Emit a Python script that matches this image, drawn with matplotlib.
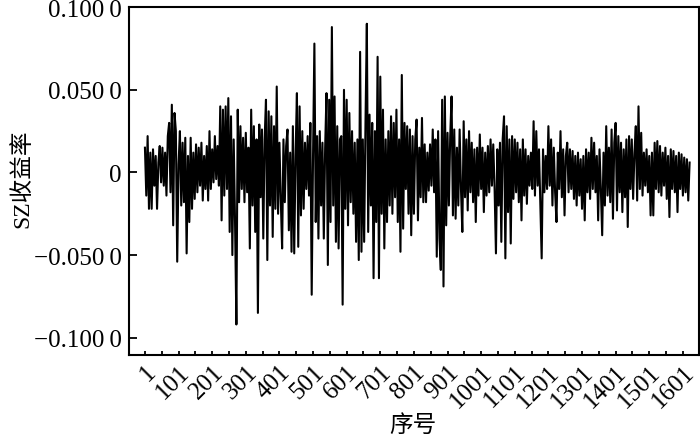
# -*- coding: utf-8 -*-
""" SZ return series, redrawn from the reference figure """

import numpy as np
import matplotlib
matplotlib.use('Agg')
import matplotlib.pyplot as plt
from matplotlib.ticker import FixedLocator, FuncFormatter

# Returns, in units of 0.001, one value every 4 trading days
ret_milli = [
    15, -14, 22, -22, 12, -22, 14, -8, 10, -22, 6, 16, -6, 15, -8, 12,
    -14, 22, 30, -12, 41, -32, 36, 25, -54, 5, 25, -20, 18, -18, 21, -49,
    10, -30, 21, -22, 12, -16, 17, -12, 15, -8, 18, -17, 10, -10, 16, -17,
    25, -10, 14, -6, 22, -4, 16, -8, 40, -29, 38, -14, 40, -10, 45, -36,
    34, -50, 20, -30, -92, 38, -18, 28, -10, 21, -18, 24, -12, 15, -46, 38,
    -20, 28, -36, 20, -85, 29, -15, 26, -40, 20, 44, -53, 37, -20, 34, -39,
    28, -22, 52, -25, 18, -16, -46, 20, -18, 16, 26, -35, 12, -48, 28, -49,
    10, 48, -45, 40, -26, 25, -22, 18, -10, 22, -14, 30, -74, 10, 78, -30,
    22, -40, 25, -20, 18, -40, 15, 48, -56, 44, -30, 88, -20, 46, -42, 28,
    -46, 20, 22, -80, 50, -22, 44, -32, 36, -18, 25, -25, 18, -42, 20, -53,
    73, -48, 20, -42, 30, 90, -36, 35, -20, 30, -64, 25, -30, 70, -64, 58,
    -25, 38, -46, 20, -30, 25, -20, 34, -25, 30, -15, 38, -30, 20, -48, 59,
    -34, 30, -10, 28, -25, 26, -38, 22, -25, 20, 32, -29, 15, -15, 33, -18,
    17, -18, 12, -11, 17, -8, 26, -12, 20, -51, 25, -40, -59, 44, -69, 46,
    -32, 24, -20, 22, 46, -26, 26, -28, 15, -20, 26, -10, -36, 31, -15, 20,
    -23, 25, -12, 18, -18, 14, -30, 15, -14, 23, -10, 15, -24, 12, -14, 16,
    -12, 20, -8, 17, -10, -49, 14, -20, 18, -42, 20, 34, -52, 28, -24, 20,
    -43, 22, -16, 20, -12, 18, -18, 14, -29, 20, -14, 14, -19, 10, -8, 12,
    -10, 31, -14, 25, -8, 14, -20, -52, 14, -12, 10, -10, 28, -8, 20, -20,
    15, -12, -30, 12, -10, 25, -15, 14, -26, 10, 18, -12, 14, -10, 13, -16,
    10, -20, 12, -14, 8, -22, 10, -29, 14, -12, 12, -16, 21, -10, 18, -12,
    10, -29, 14, -10, -38, 12, -20, 28, -14, 15, -18, 26, -28, 18, 30, -23,
    22, -12, 18, -24, 14, -15, 20, -33, 22, -10, 20, -16, 12, 28, -17, 40,
    -10, 24, -14, 12, -8, 14, -12, 10, -26, 12, -26, 18, -10, 19, -12, 16,
    -14, 12, -8, 15, -16, 10, -27, 14, -10, 13, -12, 10, -24, 12, -10, 11,
    -14, 9, -12, 8, -17, 6,
]

# Axis ticks
y_ticks = [-0.1, -0.05, 0.0, 0.05, 0.1]
x_major = list(range(1, 1602, 100))
x_minor = list(range(51, 1552, 100))

ret = np.array(ret_milli) / 1000.0
seq_no = 1 + 4 * np.arange(len(ret))

serif = ['Liberation Serif', 'DejaVu Serif']
cjk = ['Liberation Serif', 'Noto Sans CJK SC', 'DejaVu Sans']
plt.rcParams['font.family'] = serif

fig = plt.figure(figsize=(7.0, 4.39), dpi=100)
ax = fig.add_axes([0.184, 0.189, 0.8146, 0.793])

ax.plot(seq_no, ret, color='k', linewidth=1.5)

ax.set_xlim(-47, 1649)
ax.set_ylim(-0.1105, 0.1002)


def y_fmt(v, pos):
    if abs(v) < 1e-9:
        return '0'
    s = '%.4f' % abs(v)
    s = s[:-1] + '\u2009' + s[-1]
    return ('\u2212' + s) if v < 0 else s


ax.yaxis.set_major_locator(FixedLocator(y_ticks))
ax.yaxis.set_major_formatter(FuncFormatter(y_fmt))
ax.xaxis.set_major_locator(FixedLocator(x_major))
ax.xaxis.set_minor_locator(FixedLocator(x_minor))
ax.set_xticklabels([str(v) for v in x_major], rotation=45, ha='right',
                   rotation_mode='anchor')

ax.tick_params(axis='y', which='major', direction='in', length=5.5,
               width=1.3, labelsize=18, pad=5)
ax.tick_params(axis='x', which='both', direction='in', length=3,
               width=1.3, labelsize=18, pad=4)
for sp in ax.spines.values():
    sp.set_linewidth(1.5)

ax.set_xlabel('序号', fontsize=17, family=cjk)
ax.xaxis.set_label_coords(0.498, -0.17)
ax.set_ylabel('SZ收益率', fontsize=17, family=cjk)
ax.yaxis.set_label_coords(-0.168, 0.51)

fig.savefig('out.png', dpi=100)
